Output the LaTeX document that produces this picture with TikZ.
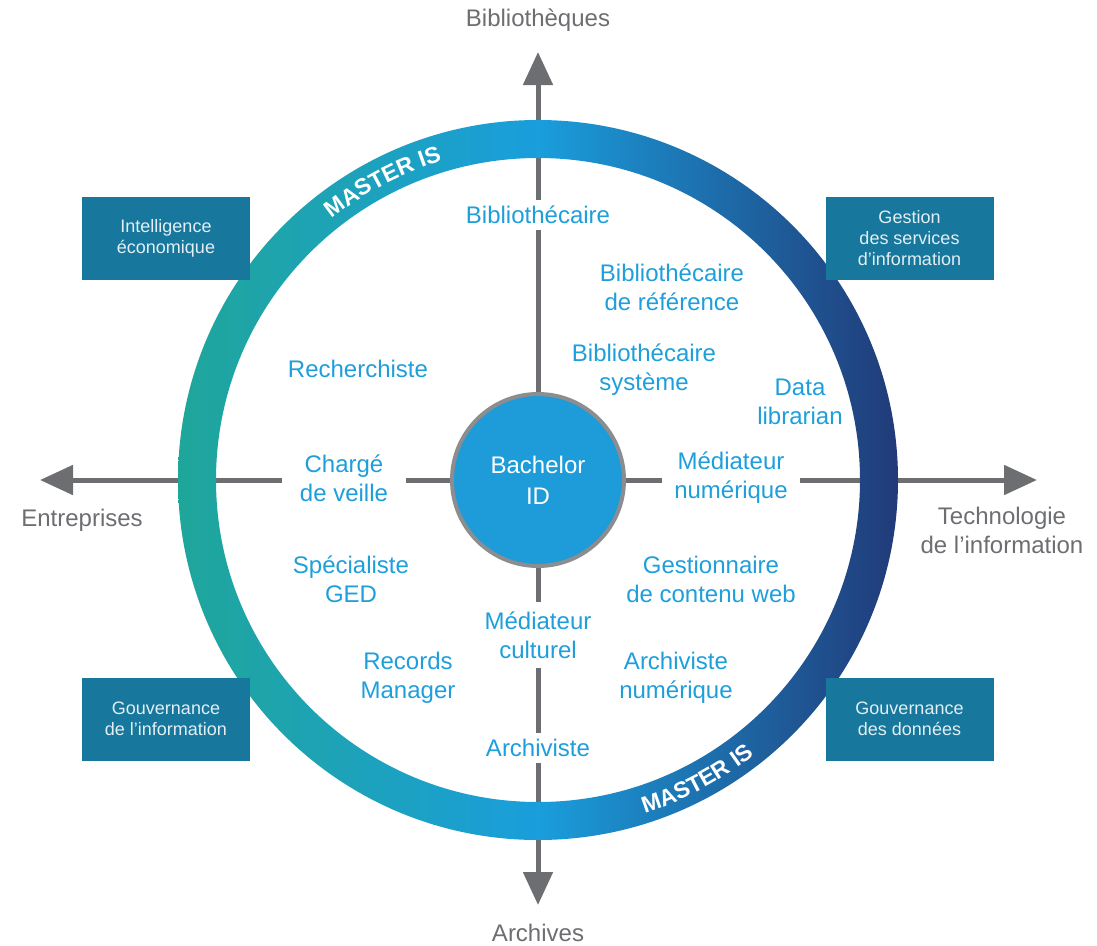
\documentclass[tikz,border=0pt]{standalone}
\usepackage{fontspec}
\setmainfont{Liberation Sans}
\usetikzlibrary{arrows.meta,decorations.text}
\definecolor{axisgray}{HTML}{6D6E71}
\definecolor{lblue}{HTML}{1E9FDB}
\definecolor{boxblue}{HTML}{17779C}
\definecolor{boxtext}{HTML}{E2EFF5}
\definecolor{ringL}{HTML}{1FA69A}
\definecolor{ringM}{HTML}{1A9EDC}
\definecolor{ringR}{HTML}{213A78}
\definecolor{cfill}{HTML}{1E9BD9}
\definecolor{cborder}{HTML}{8C8D8F}
\begin{document}
\begin{tikzpicture}[x=1pt,y=1pt,
  axis/.style={draw=axisgray,line width=5pt},
  tipped/.style={axis,{Triangle[length=33pt,width=29pt]}-{Triangle[length=33pt,width=29pt]}},
  job/.style={text=lblue,font=\fontsize{24}{29}\selectfont,align=center,inner sep=6pt},
  onaxis/.style={job,fill=white},
  pole/.style={text=axisgray,font=\fontsize{24}{29}\selectfont,align=center},
  corner/.style={fill=boxblue,text=boxtext,font=\fontsize{18}{21}\selectfont,align=center,minimum width=168pt,minimum height=83pt,inner sep=0pt},
  bachelor/.style={circle,fill=cfill,draw=cborder,line width=4pt,minimum size=172pt,text=white,font=\fontsize{24}{31}\selectfont,align=center},
]
\useasboundingbox (0,0) rectangle (1097,-945);
\coordinate (C) at (538,-480);
\coordinate (N) at (538,-52);
\coordinate (S) at (538,-905);
\coordinate (W) at (40,-480);
\coordinate (E) at (1037,-480);
% axes
\draw[tipped] (S) -- (N);
\draw[tipped] (W) -- (E);
% ring
\shade[even odd rule,left color=ringL,right color=ringR,middle color=ringM] (C) circle (360) (C) circle (322);
\path[decorate,decoration={text along path,text align=center,text color=white,
  text={|\bfseries\fontsize{23}{23}\selectfont|MASTER IS}}]
  (C) ++(150:333) arc[start angle=150,end angle=85,radius=333];
\path[decorate,decoration={text along path,text align=center,text color=white,
  text={|\bfseries\fontsize{23}{23}\selectfont|MASTER IS}}]
  (C) ++(265:350) arc[start angle=265,end angle=331,radius=350];
% pole labels
\node[pole] (tb) at (538,-20) {Bibliothèques};
\node[pole] (ta) at (538,-933) {Archives};
\node[pole] (te) at (82,-520) {Entreprises};
\node[pole] (tt) at (1002,-530) {Technologie\\de l'information};
% jobs on axes
\node[onaxis] (bib) at (538,-215) {Bibliothécaire};
\node[onaxis,inner xsep=18pt] (charge) at (344,-478) {Chargé\\de veille};
\node[onaxis,inner xsep=12pt] (medn) at (731,-478) {Médiateur\\numérique};
\node[onaxis,inner ysep=10pt] (medc) at (538,-635) {Médiateur\\culturel};
\node[onaxis] (arch) at (538,-748) {Archiviste};
% other jobs
\node[job] (bibref) at (672,-287) {Bibliothécaire\\de référence};
\node[job] (bibsys) at (644,-370) {Bibliothécaire\\système};
\node[job] (data) at (800,-402) {Data\\librarian};
\node[job] (rech) at (358,-369) {Recherchiste};
\node[job] (ged) at (351,-579) {Spécialiste\\GED};
\node[job] (web) at (711,-579) {Gestionnaire\\de contenu web};
\node[job] (rec) at (408,-678) {Records\\Manager};
\node[job] (archn) at (676,-678) {Archiviste\\numérique};
% center
\node[bachelor] (bach) at (C) {Bachelor\\ID};
% corner boxes
\node[corner] (ie) at (166,-238.5) {Intelligence\\économique};
\node[corner] (gsi) at (909.5,-238.5) {Gestion\\des services\\d'information};
\node[corner] (gi) at (166,-719) {Gouvernance\\de l'information};
\node[corner] (gd) at (909.5,-719) {Gouvernance\\des données};
\end{tikzpicture}
\end{document}
